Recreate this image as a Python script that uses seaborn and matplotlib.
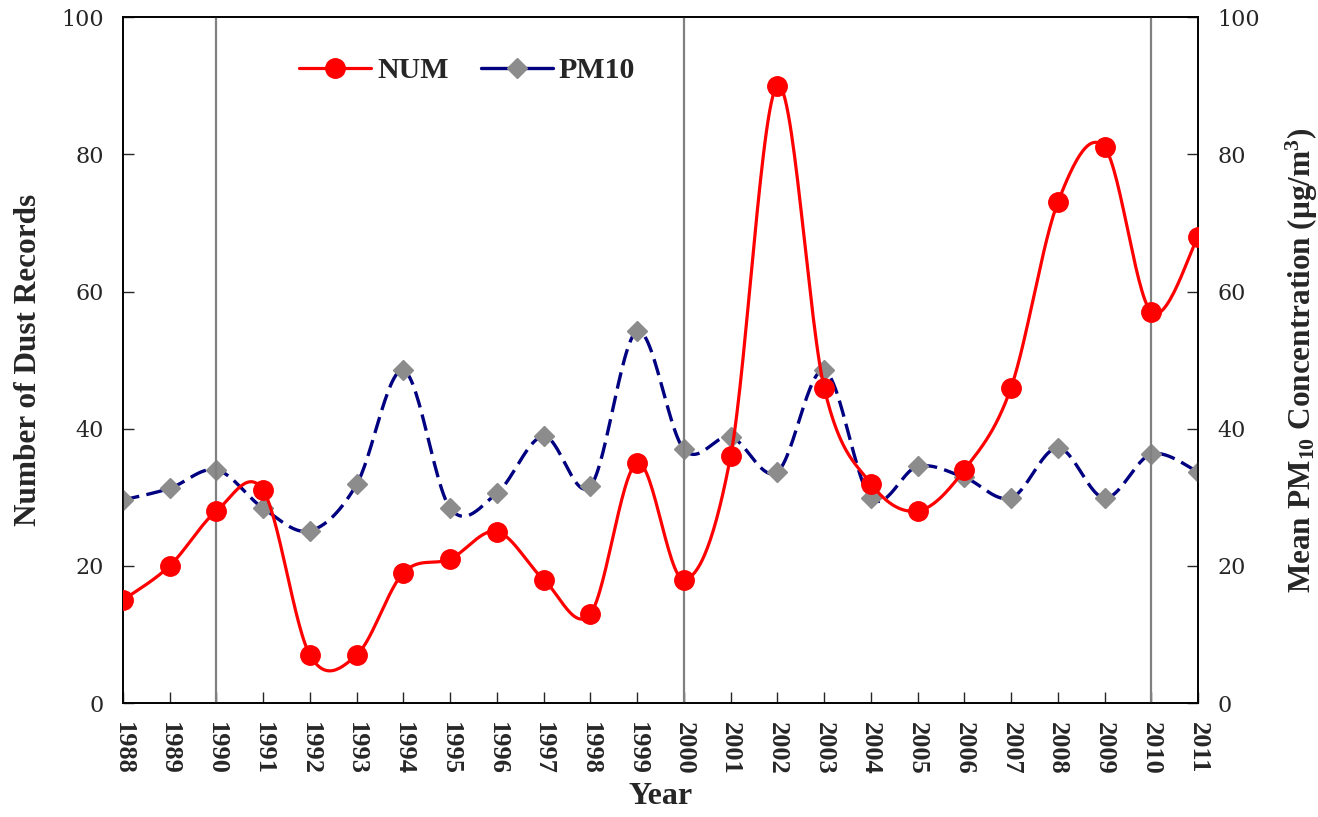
import numpy as np
import pandas as pd
import matplotlib
matplotlib.use("Agg")
import matplotlib.pyplot as plt
from matplotlib.lines import Line2D
import seaborn as sns

years = list(range(1988, 2012))
num = [15, 20, 28, 31, 7, 7, 19, 21, 25, 18, 13, 35, 18, 36, 90, 46, 32, 28, 34, 46, 73, 81, 57, 68]
pm10 = [29.6, 31.3, 34.0, 28.4, 25.1, 31.9, 48.5, 28.4, 30.6, 38.9, 31.6, 54.2,
        37.0, 38.8, 33.7, 48.5, 29.9, 34.5, 32.9, 29.9, 37.2, 29.9, 36.3, 33.7]
vlines = [1990, 2000, 2010]
yticks = [0, 20, 40, 60, 80, 100]


def smooth(x, y, n=30, tension=0.5):
    x = np.asarray(x, float)
    y = np.asarray(y, float)
    px = np.concatenate([[x[0]], x, [x[-1]]])
    py = np.concatenate([[y[0]], y, [y[-1]]])
    xs, ys = [], []
    for i in range(1, len(px) - 2):
        p0 = np.array([px[i - 1], py[i - 1]])
        p1 = np.array([px[i], py[i]])
        p2 = np.array([px[i + 1], py[i + 1]])
        p3 = np.array([px[i + 2], py[i + 2]])
        m1 = tension * (p2 - p0)
        m2 = tension * (p3 - p1)
        t = np.linspace(0, 1, n, endpoint=False)[:, None]
        h00 = 2 * t**3 - 3 * t**2 + 1
        h10 = t**3 - 2 * t**2 + t
        h01 = -2 * t**3 + 3 * t**2
        h11 = t**3 - t**2
        pts = h00 * p1 + h10 * m1 + h01 * p2 + h11 * m2
        xs.extend(pts[:, 0]); ys.extend(pts[:, 1])
    xs.append(x[-1]); ys.append(y[-1])
    return np.array(xs), np.array(ys)


sns.set_theme(style="white")
plt.rcParams['font.family'] = ['DejaVu Serif']
plt.rcParams['mathtext.fontset'] = 'custom'
plt.rcParams['mathtext.rm'] = 'Liberation Serif:bold'
plt.rcParams['mathtext.it'] = 'Liberation Serif:bold'
plt.rcParams['mathtext.bf'] = 'Liberation Serif:bold'

fig = plt.figure(figsize=(13.18, 8.17), dpi=100)
ax = fig.add_axes([0.0933, 0.1395, 0.8157, 0.8395])
ax2 = ax.twinx()

for v in vlines:
    ax.axvline(v, color='#808080', lw=1.6, zorder=1)

sx, sy = smooth(years, pm10)
df_pm = pd.DataFrame({'x': sx, 'y': sy})
sns.lineplot(data=df_pm, x='x', y='y', ax=ax2, color='#000080', lw=2.4,
             linestyle=(0, (5, 2.2)), sort=False, estimator=None, zorder=2)
ax2.plot(years, pm10, linestyle='none', marker='D', color='#8c8c8c', ms=10.5, zorder=3)

sx, sy = smooth(years, num)
df_num = pd.DataFrame({'x': sx, 'y': sy})
sns.lineplot(data=df_num, x='x', y='y', ax=ax, color='#ff0000', lw=2.3,
             sort=False, estimator=None, zorder=2)
ax.plot(years, num, linestyle='none', marker='o', color='#ff0000', ms=14, zorder=3)

ax.set_zorder(ax2.get_zorder() + 1)
ax.patch.set_visible(False)

for a in (ax, ax2):
    a.set_xlim(1988, 2011)
    a.set_ylim(0, 100)
    a.set_yticks(yticks)
    for s in a.spines.values():
        s.set_color('black'); s.set_linewidth(1.2)

ax.set_xticks(years)
ax.set_xticklabels([str(y) for y in years], rotation=-90, fontsize=19, fontweight='bold',
                   family='Liberation Serif')
ax.tick_params(axis='x', direction='in', length=8, width=1, pad=14, bottom=True)
ax.tick_params(axis='y', direction='in', length=8, width=1, pad=14, left=True, labelsize=16)
ax2.tick_params(axis='y', direction='in', length=8, width=1, pad=14, right=True, labelsize=16)
ax.set_ylabel('Number of Dust Records', fontsize=22.5, fontweight='bold', family='Liberation Serif', labelpad=13)
ax.set_xlabel('Year', fontsize=23, fontweight='bold', family='Liberation Serif', labelpad=5)
ax2.set_ylabel(r'Mean PM$_{\mathregular{10}}$ Concentration ($\mathregular{\mu}$g/m$^{\mathregular{3}}$)',
               fontsize=22.5, fontweight='bold', family='Liberation Serif', labelpad=17)

handles = [Line2D([], [], color='#ff0000', lw=2.3, marker='o', ms=14),
           Line2D([], [], color='#000080', lw=2.4, marker='D', ms=10.5,
                  markerfacecolor='#8c8c8c', markeredgecolor='#8c8c8c')]
ax.legend(handles, ['NUM', 'PM10'], loc='center left', bbox_to_anchor=(0.139, 0.922), ncol=2,
          frameon=False, prop={'family': 'Liberation Serif', 'weight': 'bold', 'size': 21.5},
          handlelength=2.4, columnspacing=1.1, handletextpad=0.2)

fig.savefig('out.png', dpi=100)
